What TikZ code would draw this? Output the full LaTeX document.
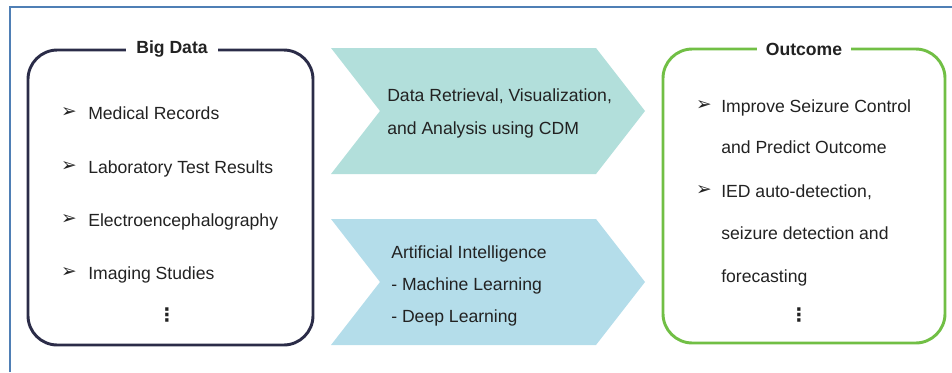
\documentclass[tikz,border=0pt]{standalone}
\usepackage{fontspec}
\setmainfont{Liberation Sans}
\newfontfamily\dingfont{DejaVu Sans}
\definecolor{framec}{HTML}{4F7FB5}
\definecolor{navy}{HTML}{2B2C48}
\definecolor{leafgreen}{HTML}{71BF45}
\definecolor{tealA}{HTML}{B2DFDB}
\definecolor{skyB}{HTML}{B4DDEA}
\definecolor{ink}{HTML}{222222}
\begin{document}
\begin{tikzpicture}[x=0.75pt,y=-0.75pt,font=\fontsize{13.2}{16}\selectfont,text=ink,
	txt/.style={anchor=west,inner sep=0pt,text height=9.4pt,text depth=0pt},
	bul/.style={inner sep=0pt,font=\dingfont\fontsize{14}{14}\selectfont},
	vdot/.style={inner sep=0pt,font=\dingfont\bfseries\fontsize{14}{14}\selectfont},
	ttl/.style={fill=white,inner ysep=2pt,font=\fontsize{13.2}{16}\selectfont\bfseries},
	box/.style={line width=2.2pt,rounded corners=22pt}]
	\useasboundingbox (0,0) rectangle (952,372);
	\draw[framec,line width=1.5pt] (10,372)--(10,7)--(952,7);
	\foreach \yt/\c in {48/tealA,219/skyB}{
		\fill[\c] (331,\yt)--(596,\yt)--(645,{\yt+63})--(596,{\yt+126})--(331,{\yt+126})--(380,{\yt+63})--cycle;
	}
	\draw[box,navy] (28,50) rectangle (313,345);
	\draw[box,leafgreen] (663,49) rectangle (945,343);
	\node[ttl,inner xsep=8pt] (bigdata) at (172,49) {Big Data};
	\node[ttl,inner xsep=7pt] (outcome) at (804,49) {Outcome};
	\foreach \y/\t [count=\i] in {113/Medical Records,167/Laboratory Test Results,
		220/Electroencephalography,273/Imaging Studies}{
		\node[bul] (bdb\i) at (69,\y) {➢};
		\node[txt] (bd\i) at (88,\y) {\t};
	}
	\foreach \x/\y/\t [count=\i] in {387/95/{Data Retrieval, Visualization,},387/128/and Analysis using CDM,
		391/252/Artificial Intelligence,391/284/- Machine Learning,391/316/- Deep Learning}{
		\node[txt] (mid\i) at (\x,\y) {\t};
	}
	\foreach \y/\t [count=\i] in {106/Improve Seizure Control,147/and Predict Outcome,
		191/{IED auto-detection,},233/seizure detection and,276/forecasting}{
		\node[txt] (oc\i) at (721,\y) {\t};
	}
	\foreach \y [count=\i] in {106,191}{
		\node[bul] (ocb\i) at (704,\y) {➢};
	}
	\node[vdot] (bddots) at (167,315) {⋮};
	\node[vdot] (ocdots) at (799,315) {⋮};
\end{tikzpicture}
\end{document}
